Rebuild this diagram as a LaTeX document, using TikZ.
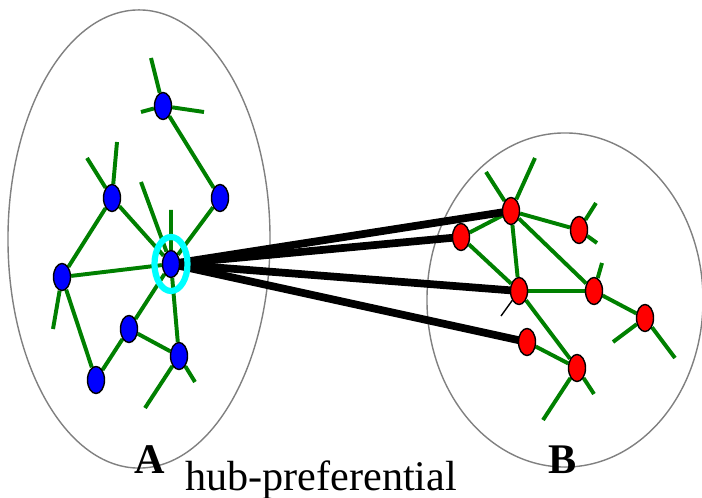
\documentclass[tikz,border=0pt]{standalone}
\usepackage{fontspec}
\setmainfont{Liberation Serif}
\usetikzlibrary{shapes.geometric, backgrounds}
\definecolor{linkgreen}{RGB}{0,128,0}
\definecolor{hubcyan}{RGB}{0,255,255}

\begin{document}
\begin{tikzpicture}[
  x=0.025cm, y=-0.025cm,
  vertex/.style={
    ellipse,
    draw,
    line width=1pt,
    minimum width=0.425cm,
    minimum height=0.675cm,
    inner sep=0pt
  },
  bnode/.style={vertex, fill=blue},
  rnode/.style={vertex, fill=red},
  cluster/.style={ellipse, draw=gray, line width=1pt, inner sep=0pt},
  ring/.style={ellipse, draw=hubcyan, line width=4.4pt,
    minimum width=0.825cm, minimum height=1.35cm, inner sep=0pt},
  link/.style={draw=linkgreen, line width=2.8pt},
  tie/.style={line width=5.5pt},
  lbl/.style={font=\fontsize{30}{36}\selectfont, inner sep=0pt}
]
\useasboundingbox (0,0) rectangle (702,498);

% community A
\node[bnode] (b1) at (163,106) {};
\node[bnode] (b2) at (112,198) {};
\node[bnode] (b3) at (220,198) {};
\node[ring] (hubring) at (171,264) {};
\node[bnode] (hub) at (171,264) {};
\node[bnode] (b5) at (62,277) {};
\node[bnode] (b6) at (129,329) {};
\node[bnode] (b7) at (179,356) {};
\node[bnode] (b8) at (96,380) {};

% community B
\node[rnode] (r1) at (511,211) {};
\node[rnode] (r2) at (461,237) {};
\node[rnode] (r3) at (579,230) {};
\node[rnode] (r4) at (519,291) {};
\node[rnode] (r5) at (594,291) {};
\node[rnode] (r6) at (645,318) {};
\node[rnode] (r7) at (527,342) {};
\node[rnode] (r8) at (577,368) {};

% loose ends
\coordinate (b1a) at (151,58);
\coordinate (b1b) at (141,112);
\coordinate (b1c) at (204,112);
\coordinate (b2a) at (87,158);
\coordinate (b2b) at (117,142);
\coordinate (hubA) at (141,182);
\coordinate (hubB) at (171,210);
\coordinate (b5a) at (53,329);
\coordinate (b7a) at (145,408);
\coordinate (b7b) at (195,382);
\coordinate (r1a) at (486,172);
\coordinate (r1b) at (535,158);
\coordinate (r3a) at (596,203);
\coordinate (r3b) at (597,243);
\coordinate (r4a) at (501,316);
\coordinate (r5a) at (602,263);
\coordinate (r6a) at (613,342);
\coordinate (r6b) at (675,358);
\coordinate (r8a) at (543,420);
\coordinate (r8b) at (594,394);

\begin{scope}[on background layer]
\node[cluster, minimum width=6.55cm, minimum height=11.45cm] (clA) at (139,239) {};
\node[cluster, minimum width=6.9cm, minimum height=8.35cm] (clB) at (565,300) {};

\draw[link] (b1) -- (b3) (b2) -- (hub) (b2) -- (b5) (b3) -- (hub)
  (b5) -- (hub) (b5) -- (b8) (b8) -- (b6) (b6) -- (hub) (b6) -- (b7)
  (b7) -- (hub);
\draw[link] (b1) -- (b1a) (b1) -- (b1b) (b1) -- (b1c) (b2) -- (b2a)
  (b2) -- (b2b) (hub) -- (hubA) (hub) -- (hubB) (b5) -- (b5a)
  (b7) -- (b7a) (b7) -- (b7b);

\draw[link] (r1) -- (r2) (r1) -- (r3) (r1) -- (r4) (r1) -- (r5)
  (r2) -- (r4) (r4) -- (r5) (r4) -- (r8) (r5) -- (r6) (r7) -- (r8);
\draw[link] (r1) -- (r1a) (r1) -- (r1b) (r3) -- (r3a) (r3) -- (r3b)
  (r5) -- (r5a) (r6) -- (r6a) (r6) -- (r6b) (r8) -- (r8a) (r8) -- (r8b);
\draw[line width=1pt] (r4) -- (r4a);

\draw[tie] (hub.center) -- (r1.center);
\draw[tie] (hub.center) -- (r2.center);
\draw[tie] (hub.center) -- (r4.center);
\draw[tie] (hub.center) -- (r7.center);

\node[lbl, anchor=base, font=\fontsize{30}{36}\selectfont\bfseries] (labA) at (150,473) {A};
\node[lbl, anchor=base, font=\fontsize{30}{36}\selectfont\bfseries] (labB) at (563,473) {B};
\node[lbl, anchor=base west] (labHub) at (185,490) {hub-preferential};
\end{scope}

\end{tikzpicture}
\end{document}
